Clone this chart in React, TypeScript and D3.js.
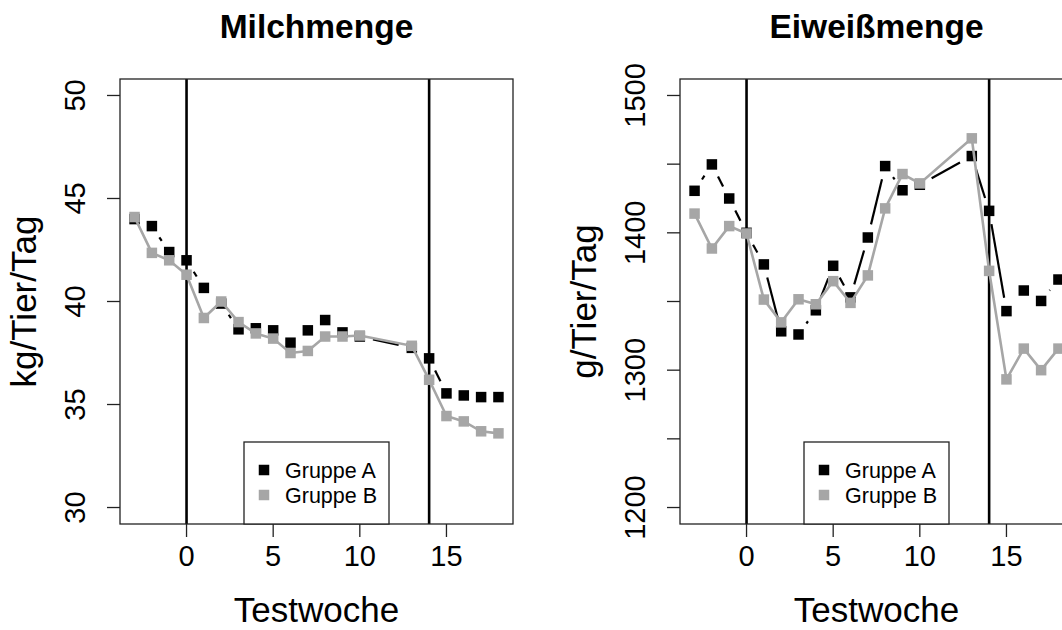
import React, { useRef, useEffect } from 'react';
import * as d3 from 'd3';

const weeks = [-3, -2, -1, 0, 1, 2, 3, 4, 5, 6, 7, 8, 9, 10, 13, 14, 15, 16, 17, 18];
const milchA = [44.0, 43.66, 42.4, 42.0, 40.66, 39.9, 38.65, 38.7, 38.6, 38.0, 38.6, 39.1, 38.5, 38.3, 37.75, 37.24, 35.54, 35.44, 35.36, 35.36];
const milchB = [44.1, 42.36, 42.0, 41.3, 39.2, 40.0, 39.0, 38.45, 38.2, 37.5, 37.6, 38.3, 38.3, 38.35, 37.85, 36.2, 34.44, 34.18, 33.7, 33.6];
const eiweissA = [1430.6, 1449.8, 1425, 1400, 1377, 1328.3, 1326, 1343.6, 1376, 1353, 1396.6, 1448.6, 1431, 1435, 1455.9, 1416, 1343, 1358, 1350.4, 1366];
const eiweissB = [1414, 1388.6, 1404.9, 1399.5, 1351.4, 1334.8, 1351.6, 1348, 1364.8, 1349, 1369, 1417.8, 1442.8, 1436, 1468.8, 1372.3, 1293.3, 1315.7, 1300, 1315.7];
const xTicks = [0, 5, 10, 15];
const milchTicks = [30, 35, 40, 45, 50];
const milchLabels = [30, 35, 40, 45, 50];
const eiweissTicks = [1200, 1250, 1300, 1350, 1400, 1450, 1500];
const eiweissLabels = [1200, 1300, 1400, 1500];
const markerWeeks = [0, 14];
const groups = ['Gruppe A', 'Gruppe B'];

const panels = [
  { title: 'Milchmenge', ylab: 'kg/Tier/Tag', a: milchA, b: milchB, yTicks: milchTicks, yLabels: milchLabels, ylim: [30, 50] },
  { title: 'Eiweißmenge', ylab: 'g/Tier/Tag', a: eiweissA, b: eiweissB, yTicks: eiweissTicks, yLabels: eiweissLabels, ylim: [1200, 1500] },
];

const font = '"Liberation Sans", Arial, sans-serif';

export default function App() {
  const svgEl = useRef<SVGSVGElement>(null);

  useEffect(() => {
    const svg = d3.select(svgEl.current);
    svg.selectAll('*').remove();

    const left = 120, right = 513, top = 79, bottom = 524;
    const gray = '#a6a6a6';

    panels.forEach((p, i) => {
      const g = svg.append('g').attr('transform', `translate(${i * 560},0)`);
      const ext = (p.ylim[1] - p.ylim[0]) * 0.04;
      const x = d3.scaleLinear().domain([-3.84, 18.84]).range([left, right]);
      const y = d3.scaleLinear().domain([p.ylim[0] - ext, p.ylim[1] + ext]).range([bottom, top]);

      // abline verticals
      g.selectAll('line.v')
        .data(markerWeeks)
        .enter()
        .append('line')
        .attr('x1', (d) => x(d))
        .attr('x2', (d) => x(d))
        .attr('y1', top)
        .attr('y2', bottom)
        .attr('stroke', '#000')
        .attr('stroke-width', 2.6);

      // group A: type "b" (segments with gaps)
      const ptsA = weeks.map((w, k) => [x(w), y(p.a[k])]);
      const gap = 13.5;
      for (let k = 0; k < ptsA.length - 1; k++) {
        const [x0, y0] = ptsA[k];
        const [x1, y1] = ptsA[k + 1];
        const len = Math.hypot(x1 - x0, y1 - y0);
        if (len <= 2 * gap) continue;
        const ux = (x1 - x0) / len, uy = (y1 - y0) / len;
        g.append('line')
          .attr('x1', x0 + ux * gap)
          .attr('y1', y0 + uy * gap)
          .attr('x2', x1 - ux * gap)
          .attr('y2', y1 - uy * gap)
          .attr('stroke', '#000')
          .attr('stroke-width', 2.2);
      }
      const sq = 10.5;
      g.selectAll('rect.a')
        .data(ptsA)
        .enter()
        .append('rect')
        .attr('x', (d) => d[0] - sq / 2)
        .attr('y', (d) => d[1] - sq / 2)
        .attr('width', sq)
        .attr('height', sq)
        .attr('fill', '#000');

      // group B: type "o"
      const line = d3
        .line<number>()
        .x((d, k) => x(weeks[k]))
        .y((d) => y(d));
      g.append('path')
        .attr('d', line(p.b))
        .attr('fill', 'none')
        .attr('stroke', gray)
        .attr('stroke-width', 2.6);
      g.selectAll('rect.b')
        .data(p.b)
        .enter()
        .append('rect')
        .attr('x', (d, k) => x(weeks[k]) - sq / 2)
        .attr('y', (d) => y(d) - sq / 2)
        .attr('width', sq)
        .attr('height', sq)
        .attr('fill', gray);

      // box
      g.append('rect')
        .attr('x', left)
        .attr('y', top)
        .attr('width', right - left)
        .attr('height', bottom - top)
        .attr('fill', 'none')
        .attr('stroke', '#222')
        .attr('stroke-width', 1.3);

      // x axis
      xTicks.forEach((t) => {
        g.append('line')
          .attr('x1', x(t)).attr('x2', x(t))
          .attr('y1', bottom).attr('y2', bottom + 13)
          .attr('stroke', '#222').attr('stroke-width', 1.3);
        g.append('text')
          .attr('x', x(t)).attr('y', 566)
          .attr('text-anchor', 'middle')
          .attr('font-family', font).attr('font-size', 29)
          .text(t);
      });

      // y axis
      p.yTicks.forEach((t) => {
        g.append('line')
          .attr('x1', left - 13).attr('x2', left)
          .attr('y1', y(t)).attr('y2', y(t))
          .attr('stroke', '#222').attr('stroke-width', 1.3);
      });
      p.yLabels.forEach((t) => {
        g.append('text')
          .attr('transform', `translate(85,${y(t)}) rotate(-90)`)
          .attr('text-anchor', 'middle')
          .attr('font-family', font).attr('font-size', 29)
          .text(t);
      });

      // titles
      g.append('text')
        .attr('x', (left + right) / 2).attr('y', 38)
        .attr('text-anchor', 'middle')
        .attr('font-family', font).attr('font-size', 33.5).attr('font-weight', 'bold')
        .text(p.title);
      g.append('text')
        .attr('x', (left + right) / 2).attr('y', 622)
        .attr('text-anchor', 'middle')
        .attr('font-family', font).attr('font-size', 35)
        .text('Testwoche');
      g.append('text')
        .attr('transform', `translate(36,${(top + bottom) / 2}) rotate(-90)`)
        .attr('text-anchor', 'middle')
        .attr('font-family', font).attr('font-size', 35)
        .text(p.ylab);

      // legend
      const lg = g.append('g');
      lg.append('rect')
        .attr('x', 244).attr('y', 442)
        .attr('width', 145).attr('height', bottom - 442)
        .attr('fill', '#fff').attr('stroke', '#222').attr('stroke-width', 1.3);
      groups.forEach((name, k) => {
        const cy = 470 + k * 25;
        lg.append('rect')
          .attr('x', 264 - sq / 2).attr('y', cy - sq / 2)
          .attr('width', sq).attr('height', sq)
          .attr('fill', k === 0 ? '#000' : gray);
        lg.append('text')
          .attr('x', 285).attr('y', cy + 8)
          .attr('font-family', font).attr('font-size', 21.5)
          .text(name);
      });
    });
  }, []);

  return (
    <div style={{ position: 'absolute', left: 0, top: 0 }}>
      <svg ref={svgEl} width={1062} height={630} style={{ display: 'block', background: '#fff' }}></svg>
    </div>
  );
}
